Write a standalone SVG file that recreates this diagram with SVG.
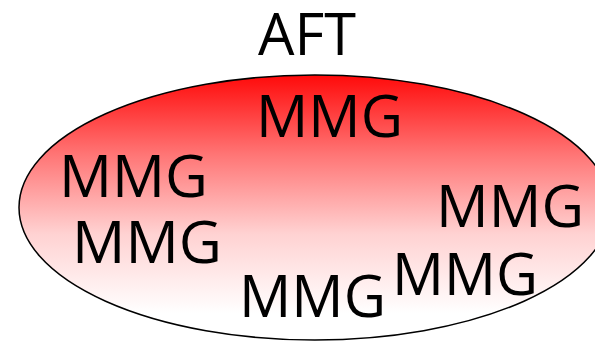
<svg xmlns="http://www.w3.org/2000/svg" width="595" height="343" viewBox="0 0 595 343">
<defs>
<linearGradient id="g" x1="0" y1="0" x2="0" y2="1">
<stop offset="0" stop-color="#ff0a0a"/>
<stop offset="0.3" stop-color="#ff7575"/>
<stop offset="0.6" stop-color="#ffd2d2"/>
<stop offset="0.9" stop-color="#ffffff"/>
</linearGradient>
<style>
text{font-family:"Open Sans","Liberation Sans",sans-serif;font-size:58px;fill:#000}
</style>
</defs>
<rect width="595" height="343" fill="#fff"/>
<g id="aft-set">
<ellipse cx="314.8" cy="207.5" rx="295.8" ry="132.5" fill="url(#g)" stroke="#000" stroke-width="1.5"/>
</g>
<text id="aft-label" x="258" y="55" textLength="98" lengthAdjust="spacingAndGlyphs">AFT</text>
<g id="mmg1"><text x="256" y="137" textLength="147" lengthAdjust="spacingAndGlyphs">MMG</text></g>
<g id="mmg2"><text x="59" y="197" textLength="149" lengthAdjust="spacingAndGlyphs">MMG</text></g>
<g id="mmg3"><text x="72" y="263" textLength="150" lengthAdjust="spacingAndGlyphs">MMG</text></g>
<g id="mmg4"><text x="436" y="227" textLength="148" lengthAdjust="spacingAndGlyphs">MMG</text></g>
<g id="mmg5"><text x="392" y="295" textLength="146" lengthAdjust="spacingAndGlyphs">MMG</text></g>
<g id="mmg6"><text x="239" y="317" textLength="147" lengthAdjust="spacingAndGlyphs">MMG</text></g>
<g id="connectors"></g>
</svg>
